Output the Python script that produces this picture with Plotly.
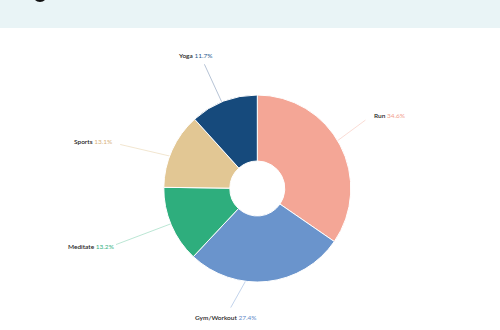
import math
import plotly.graph_objects as go

# Share of sessions by activity
activities = ["Run", "Gym/Workout", "Meditate", "Sports", "Yoga"]
shares = [34.6, 27.4, 13.2, 13.1, 11.7]

# Styling
slice_colors = ["#F4A696", "#6A94CC", "#2EAE7D", "#E2C794", "#164A7C"]
value_colors = ["#F2A08E", "#5F8BC8", "#35B383", "#D8B27C", "#2A5B8E"]
leader_colors = ["#F9D3CA", "#B3C8E6", "#A9DFC9", "#EFDFC4", "#A3B4CA"]

# Canvas / donut geometry (pixels)
W, H = 500, 330
CX, CY = 257.3, 188.5
R = 93.5
HOLE = 0.294

# Leader-line end points, expressed around each slice's mid angle
label_radius = [128, 122, 152, 144, 135]
label_nudge = [-4.6, 18.7, 1.4, -6.5, -2.0]
label_anchor = ["left", "center", "right", "right", "center"]
label_offset = [(7, -5), (-5, 10), (0, 2), (-6, -3), (-9, -9)]


def px(x):
    return x / W


def py(y):
    return 1 - y / H


fig = go.Figure()

fig.add_trace(go.Pie(
    labels=activities,
    values=shares,
    sort=False,
    direction="clockwise",
    rotation=0,
    hole=HOLE,
    marker=dict(colors=slice_colors, line=dict(color="white", width=1)),
    textinfo="none",
    hoverinfo="label+percent",
    showlegend=False,
    domain=dict(x=[px(CX - R), px(CX + R)], y=[py(CY + R), py(CY - R)]),
))

shapes = [
    # header band
    dict(type="rect", xref="paper", yref="paper", x0=0, x1=1, y0=py(28), y1=1,
         fillcolor="#E9F4F6", line=dict(width=0), layer="below"),
    dict(type="circle", xref="paper", yref="paper",
         x0=px(40 - 7.25), x1=px(40 + 7.25), y0=py(-5.25 + 7.25), y1=py(-5.25 - 7.25),
         fillcolor="#111111", line=dict(width=0), layer="below"),
]
annotations = []

total = sum(shares)
start = 0.0
r_mid = R * (1 + HOLE) / 2
for i, (name, v) in enumerate(zip(activities, shares)):
    sweep = v / total * 360
    mid = start + sweep / 2
    start += sweep
    a0 = math.radians(mid)
    sx, sy = CX + r_mid * math.sin(a0), CY - r_mid * math.cos(a0)
    a1 = math.radians(mid + label_nudge[i])
    ex = CX + label_radius[i] * math.sin(a1)
    ey = CY - label_radius[i] * math.cos(a1)
    shapes.append(dict(type="line", xref="paper", yref="paper",
                       x0=px(sx), y0=py(sy), x1=px(ex), y1=py(ey),
                       line=dict(color=leader_colors[i], width=0.8), layer="below"))
    dx, dy = label_offset[i]
    annotations.append(dict(
        xref="paper", yref="paper", x=px(ex + dx), y=py(ey + dy),
        xanchor=label_anchor[i], yanchor="middle", showarrow=False,
        text=f"<span style='color:#1E1E1E;font-weight:600'>{name}</span> "
             f"<span style='color:{value_colors[i]}'>{v:.1f}%</span>",
        font=dict(family="Lato", size=6.5, color="#1E1E1E"),
    ))

fig.update_layout(
    width=W, height=H,
    margin=dict(l=0, r=0, t=0, b=0),
    paper_bgcolor="white",
    plot_bgcolor="rgba(0,0,0,0)",
    shapes=shapes,
    annotations=annotations,
    showlegend=False,
)

fig.write_html("out.html")
